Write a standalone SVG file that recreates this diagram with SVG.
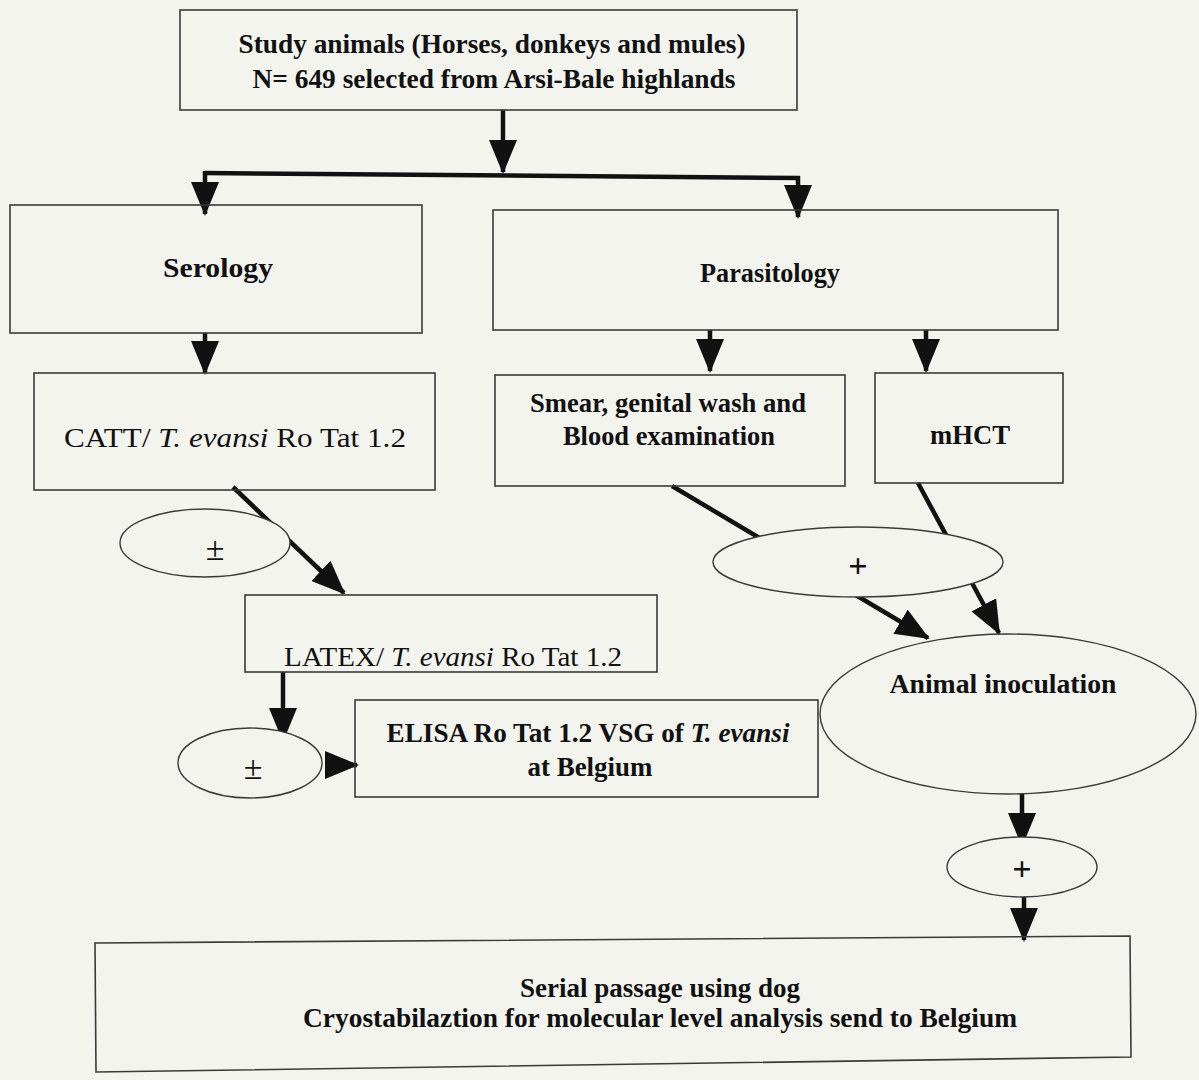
<svg xmlns="http://www.w3.org/2000/svg" width="1199" height="1080" viewBox="0 0 1199 1080">
<defs>
<marker id="ah" markerUnits="userSpaceOnUse" markerWidth="34" markerHeight="28" refX="32" refY="14" orient="auto">
<path d="M0,0 L34,14 L0,28 z" fill="#111"/>
</marker>
<style>
.box{fill:none;stroke:#3a3a3a;stroke-width:1.6}
.ell{fill:#f4f4ef;stroke:#3a3a3a;stroke-width:1.4}
.c{fill:none;stroke:#111;stroke-width:4.5}
.a{fill:none;stroke:#111;stroke-width:4.5;marker-end:url(#ah)}
text{font-family:"Liberation Serif","Times New Roman",serif;font-size:28px;fill:#111;text-anchor:middle}
.b{font-weight:bold}
.i{font-style:italic}
.s{font-size:34px}
</style>
</defs>
<rect width="1199" height="1080" fill="#f4f4ef"/>
<g id="connectors">
<line class="a" x1="503" y1="110" x2="503" y2="172"/>
<line class="c" x1="205" y1="173" x2="800" y2="178"/>
<line class="a" x1="205" y1="171" x2="205" y2="214"/>
<line class="a" x1="798" y1="176" x2="798" y2="217"/>
<line class="a" x1="205" y1="333" x2="205" y2="373"/>
<line class="a" x1="710" y1="330" x2="710" y2="371"/>
<line class="a" x1="926" y1="330" x2="926" y2="371"/>
<line class="a" x1="233" y1="487" x2="344" y2="593"/>
<line class="a" x1="672" y1="486" x2="928" y2="638"/>
<line class="a" x1="918" y1="483" x2="999" y2="633"/>
<line class="a" x1="283" y1="672" x2="283" y2="740"/>
<line class="a" x1="334" y1="765" x2="357" y2="765"/>
<line class="a" x1="1022" y1="794" x2="1022" y2="845"/>
<line class="a" x1="1024" y1="895" x2="1024" y2="940"/>
</g>
<g id="study"><rect class="box" x="180" y="10" width="617" height="100"/>
<text class="b" x="492" y="53" textLength="507" lengthAdjust="spacingAndGlyphs">Study animals (Horses, donkeys and mules)</text>
<text class="b" x="494" y="88" textLength="483" lengthAdjust="spacingAndGlyphs">N= 649 selected from Arsi-Bale highlands</text></g>
<g id="serology"><rect class="box" x="10" y="205" width="412" height="128"/>
<text class="b" x="218" y="277" textLength="110" lengthAdjust="spacingAndGlyphs">Serology</text></g>
<g id="parasitology"><rect class="box" x="493" y="210" width="565" height="120"/>
<text class="b" x="770" y="282" textLength="140" lengthAdjust="spacingAndGlyphs">Parasitology</text></g>
<g id="catt"><rect class="box" x="34" y="373" width="401" height="117"/>
<text x="235" y="447" textLength="342" lengthAdjust="spacingAndGlyphs">CATT/ <tspan class="i">T. evansi</tspan> Ro Tat 1.2</text></g>
<g id="smear"><rect class="box" x="495" y="375" width="350" height="111"/>
<text class="b" x="668" y="412" textLength="276" lengthAdjust="spacingAndGlyphs">Smear, genital wash and</text>
<text class="b" x="669" y="445" textLength="212" lengthAdjust="spacingAndGlyphs">Blood examination</text></g>
<g id="mhct"><rect class="box" x="875" y="373" width="188" height="110"/>
<text class="b" x="970" y="444" textLength="80" lengthAdjust="spacingAndGlyphs">mHCT</text></g>
<g id="pm1"><ellipse class="ell" cx="205" cy="543" rx="85" ry="34"/>
<text class="s" x="215" y="560">±</text></g>
<g id="plus1"><ellipse class="ell" cx="858" cy="562" rx="145" ry="35"/>
<text class="b s" x="858" y="577">+</text></g>
<g id="latex"><rect class="box" x="245" y="595" width="412" height="77"/>
<text x="453" y="666" textLength="338" lengthAdjust="spacingAndGlyphs">LATEX/ <tspan class="i">T. evansi</tspan> Ro Tat 1.2</text></g>
<g id="pm2"><ellipse class="ell" cx="250" cy="763" rx="72" ry="35"/>
<text class="s" x="253" y="779">±</text></g>
<g id="elisa"><rect class="box" x="355" y="700" width="463" height="97"/>
<text class="b" x="588" y="742" textLength="403" lengthAdjust="spacingAndGlyphs">ELISA Ro Tat 1.2 VSG of <tspan class="i">T. evansi</tspan></text>
<text class="b" x="590" y="776" textLength="125" lengthAdjust="spacingAndGlyphs">at Belgium</text></g>
<g id="inoculation"><ellipse class="ell" cx="1008" cy="714" rx="188" ry="80"/>
<text class="b" x="1003" y="693" textLength="227" lengthAdjust="spacingAndGlyphs">Animal inoculation</text></g>
<g id="plus2"><ellipse class="ell" cx="1022" cy="867" rx="75" ry="30"/>
<text class="b s" x="1022" y="880">+</text></g>
<g id="serial"><polygon class="box" points="95,943 1130,936 1131,1057 96,1072"/>
<text class="b" x="660" y="997" font-size="26" textLength="280" lengthAdjust="spacingAndGlyphs">Serial passage using dog</text>
<text class="b" x="660" y="1027" font-size="26" textLength="714" lengthAdjust="spacingAndGlyphs">Cryostabilaztion for molecular level analysis send to Belgium</text></g>
</svg>
